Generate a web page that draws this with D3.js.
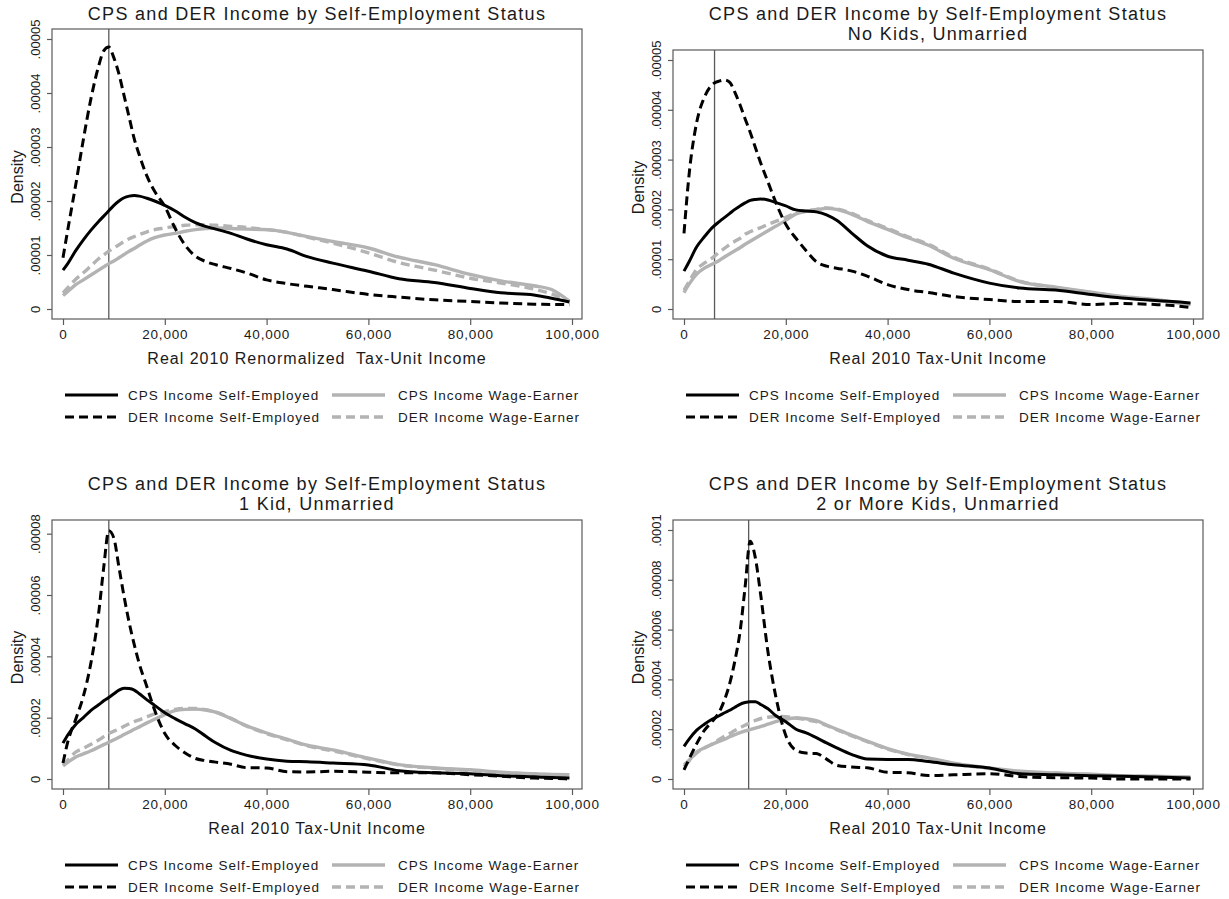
<!DOCTYPE html>
<html>
<head>
<meta charset="utf-8">
<script src="https://cdn.jsdelivr.net/npm/d3@7"></script>
<style>
  body { margin: 0; background: #fff; }
  text { font-family: "Liberation Sans", Arial, sans-serif; fill: #1a1a1a; }
</style>
</head>
<body>
<div id="chart"></div>
<script>
// income grid, in thousands of 2010 dollars
const incomeK = [0, 1, 2.5, 4, 5.5, 7, 8, 9, 10, 11, 12, 13, 14, 15, 16.5, 18, 20, 22, 24, 26, 28, 30, 33, 36, 40, 44, 48, 53, 60, 66, 73, 80, 86, 92.5, 96, 99.5];

// densities, in units of 0.00001
// panel 1: all
const cpsSelf1 = [0.72, 0.85, 1.08, 1.28, 1.46, 1.62, 1.72, 1.82, 1.92, 2.0, 2.06, 2.09, 2.1, 2.09, 2.05, 2.0, 1.92, 1.82, 1.7, 1.6, 1.53, 1.48, 1.4, 1.3, 1.19, 1.11, 0.97, 0.85, 0.7, 0.56, 0.49, 0.38, 0.3, 0.26, 0.2, 0.13];
const derSelf1 = [0.95, 1.5, 2.3, 3.14, 3.9, 4.5, 4.78, 4.85, 4.65, 4.35, 3.95, 3.55, 3.15, 2.85, 2.46, 2.18, 1.9, 1.5, 1.18, 0.98, 0.88, 0.82, 0.75, 0.67, 0.54, 0.47, 0.42, 0.36, 0.27, 0.22, 0.17, 0.14, 0.11, 0.09, 0.085, 0.08];
const cpsWage1 = [0.25, 0.33, 0.45, 0.54, 0.63, 0.72, 0.78, 0.84, 0.89, 0.95, 1.01, 1.07, 1.12, 1.18, 1.26, 1.32, 1.37, 1.4, 1.44, 1.47, 1.49, 1.5, 1.49, 1.48, 1.47, 1.42, 1.34, 1.25, 1.13, 0.96, 0.82, 0.64, 0.52, 0.43, 0.36, 0.14];
const derWage1 = [0.3, 0.4, 0.55, 0.67, 0.8, 0.93, 1.0, 1.07, 1.13, 1.19, 1.25, 1.3, 1.34, 1.38, 1.43, 1.47, 1.5, 1.53, 1.55, 1.56, 1.56, 1.55, 1.53, 1.51, 1.47, 1.42, 1.33, 1.22, 1.04, 0.86, 0.72, 0.57, 0.48, 0.37, 0.28, 0.14];

// panel 2: no kids, unmarried
const cpsSelf2 = [0.76, 0.95, 1.25, 1.45, 1.63, 1.76, 1.84, 1.92, 2.0, 2.07, 2.13, 2.18, 2.2, 2.21, 2.19, 2.14, 2.07, 1.99, 1.97, 1.95, 1.89, 1.78, 1.52, 1.27, 1.06, 0.98, 0.9, 0.72, 0.52, 0.42, 0.38, 0.29, 0.22, 0.17, 0.15, 0.12];
const derSelf2 = [1.52, 2.7, 3.75, 4.25, 4.5, 4.58, 4.6, 4.55, 4.35, 4.1, 3.82, 3.55, 3.25, 2.95, 2.55, 2.15, 1.7, 1.42, 1.17, 0.95, 0.86, 0.82, 0.76, 0.66, 0.49, 0.39, 0.33, 0.25, 0.19, 0.15, 0.15, 0.09, 0.11, 0.09, 0.07, 0.03];
const cpsWage2 = [0.33, 0.5, 0.7, 0.82, 0.9, 0.98, 1.05, 1.11, 1.17, 1.23, 1.3, 1.36, 1.42, 1.48, 1.57, 1.66, 1.78, 1.91, 1.96, 1.99, 2.02, 2.0, 1.9, 1.76, 1.6, 1.43, 1.28, 1.02, 0.79, 0.55, 0.44, 0.34, 0.25, 0.19, 0.14, 0.09];
const derWage2 = [0.38, 0.55, 0.8, 0.92, 1.02, 1.15, 1.22, 1.3, 1.36, 1.42, 1.5, 1.55, 1.6, 1.63, 1.7, 1.76, 1.84, 1.93, 1.97, 2.0, 2.03, 2.01, 1.92, 1.78, 1.62, 1.45, 1.3, 1.04, 0.8, 0.56, 0.43, 0.33, 0.24, 0.18, 0.14, 0.1];

// panel 3: 1 kid, unmarried
const cpsSelf3 = [1.17, 1.45, 1.78, 2.0, 2.24, 2.42, 2.55, 2.66, 2.78, 2.9, 2.96, 2.95, 2.9, 2.78, 2.58, 2.4, 2.16, 1.97, 1.8, 1.63, 1.4, 1.18, 0.93, 0.78, 0.65, 0.58, 0.56, 0.52, 0.46, 0.27, 0.2, 0.17, 0.11, 0.07, 0.05, 0.03];
const derSelf3 = [0.52, 1.25, 1.95, 2.7, 3.8, 5.4, 6.9, 8.1, 7.85, 6.9, 5.95, 5.1, 4.38, 3.75, 3.0, 2.25, 1.48, 1.1, 0.85, 0.67, 0.6, 0.55, 0.48, 0.37, 0.36, 0.24, 0.23, 0.25, 0.22, 0.2, 0.2, 0.14, 0.09, 0.03, 0.02, 0.0];
const cpsWage3 = [0.43, 0.55, 0.72, 0.82, 0.92, 1.04, 1.12, 1.2, 1.28, 1.36, 1.45, 1.53, 1.62, 1.7, 1.83, 1.95, 2.1, 2.23, 2.27, 2.28, 2.25, 2.18, 1.97, 1.74, 1.5, 1.3, 1.1, 0.95, 0.68, 0.47, 0.36, 0.3, 0.22, 0.17, 0.15, 0.14];
const derWage3 = [0.45, 0.62, 0.88, 1.0, 1.13, 1.27, 1.38, 1.48, 1.56, 1.63, 1.72, 1.8, 1.87, 1.93, 2.03, 2.12, 2.2, 2.27, 2.3, 2.3, 2.26, 2.18, 1.98, 1.73, 1.48, 1.28, 1.08, 0.92, 0.66, 0.46, 0.35, 0.28, 0.21, 0.16, 0.14, 0.13];

// panel 4: 2 or more kids, unmarried
const cpsSelf4 = [1.31, 1.6, 1.96, 2.2, 2.4, 2.55, 2.66, 2.76, 2.88, 3.0, 3.07, 3.1, 3.1, 3.0, 2.82, 2.55, 2.3, 2.0, 1.85, 1.66, 1.45, 1.25, 0.98, 0.8, 0.78, 0.78, 0.7, 0.57, 0.44, 0.21, 0.17, 0.13, 0.11, 0.08, 0.06, 0.04];
const derSelf4 = [0.37, 0.8, 1.42, 1.95, 2.3, 2.72, 3.2, 3.85, 4.75, 5.9, 7.7, 9.55, 8.9, 7.5, 5.1, 3.35, 1.75, 1.15, 1.04, 1.02, 0.8, 0.55, 0.48, 0.45, 0.27, 0.25, 0.14, 0.17, 0.21, 0.1, 0.05, 0.04, 0.0, 0.0, 0.0, 0.0];
const cpsWage4 = [0.57, 0.75, 1.08, 1.25, 1.39, 1.52, 1.6, 1.7, 1.78, 1.86, 1.93, 1.98, 2.04, 2.1, 2.2, 2.3, 2.4, 2.45, 2.42, 2.34, 2.17, 2.0, 1.75, 1.52, 1.22, 1.0, 0.85, 0.64, 0.44, 0.31, 0.24, 0.19, 0.13, 0.11, 0.09, 0.08];
const derWage4 = [0.5, 0.72, 1.05, 1.25, 1.4, 1.6, 1.72, 1.83, 1.95, 2.06, 2.16, 2.26, 2.35, 2.42, 2.48, 2.51, 2.5, 2.45, 2.38, 2.3, 2.15, 1.98, 1.73, 1.5, 1.2, 0.98, 0.83, 0.62, 0.42, 0.3, 0.23, 0.18, 0.12, 0.1, 0.08, 0.07];

const panelTitles = ["CPS and DER Income by Self-Employment Status", "CPS and DER Income by Self-Employment Status", "CPS and DER Income by Self-Employment Status", "CPS and DER Income by Self-Employment Status"];
const panelSubtitles = ["", "No Kids, Unmarried", "1 Kid, Unmarried", "2 or More Kids, Unmarried"];
const xTitles = ["Real 2010 Renormalized  Tax-Unit Income", "Real 2010 Tax-Unit Income", "Real 2010 Tax-Unit Income", "Real 2010 Tax-Unit Income"];
const refLines = [9000, 6000, 9000, 12700];
const yMaxes = [0.00005, 0.00005, 0.0000812, 0.0001];

const xTickValues = [0, 20000, 40000, 60000, 80000, 100000];
const xTickLabels = ["0", "20,000", "40,000", "60,000", "80,000", "100,000"];
const yTicksA = [0, 0.00001, 0.00002, 0.00003, 0.00004, 0.00005];
const yLabelsA = ["0", ".00001", ".00002", ".00003", ".00004", ".00005"];
const yTicksB = [0, 0.00002, 0.00004, 0.00006, 0.00008];
const yLabelsB = ["0", ".00002", ".00004", ".00006", ".00008"];
const yTicksC = [0, 0.00002, 0.00004, 0.00006, 0.00008, 0.0001];
const yLabelsC = ["0", ".00002", ".00004", ".00006", ".00008", ".0001"];

const legendLabels = ["CPS Income Self-Employed", "DER Income Self-Employed", "CPS Income Wage-Earner", "DER Income Wage-Earner"];

// series styles: cps self, der self, cps wage, der wage
const seriesColor = ["#000000", "#000000", "#b3b3b3", "#b3b3b3"];
const seriesDash = [null, "9,5", null, "9,5"];
const seriesWidth = [3, 3, 3.4, 3.4];

const panels = [
  {left: 52, top: 29, series: [cpsSelf1, derSelf1, cpsWage1, derWage1], yTicks: yTicksA, yLabels: yLabelsA},
  {left: 673, top: 50, series: [cpsSelf2, derSelf2, cpsWage2, derWage2], yTicks: yTicksA, yLabels: yLabelsA},
  {left: 52, top: 520, series: [cpsSelf3, derSelf3, cpsWage3, derWage3], yTicks: yTicksB, yLabels: yLabelsB},
  {left: 673, top: 520, series: [cpsSelf4, derSelf4, cpsWage4, derWage4], yTicks: yTicksC, yLabels: yLabelsC}
];
const bottoms = [319, 319, 789, 789];
const boxW = 530;
const axisColor = "#5a5a5a";

const svg = d3.select("#chart").append("svg")
    .attr("width", 1229)
    .attr("height", 899);

panels.forEach(function(p, i) {
    const bottom = bottoms[i];
    const g = svg.append("g");

    //----------------------------SCALES----------------------------//
    const x = d3.scaleLinear().domain([0, 100000]).range([p.left + 11, p.left + 520]);
    const y = d3.scaleLinear().domain([0, yMaxes[i]]).range([bottom - 10, p.top + 10]);
    const cx = p.left + boxW / 2;

    //----------------------------TITLES----------------------------//
    g.append("text")
        .attr("x", cx).attr("y", i < 2 ? 20 : 490)
        .attr("text-anchor", "middle")
        .style("font-size", "18px")
        .style("letter-spacing", "1.3px")
        .text(panelTitles[i]);
    if (panelSubtitles[i]) {
        g.append("text")
            .attr("x", cx).attr("y", i < 2 ? 40 : 510)
            .attr("text-anchor", "middle")
            .style("font-size", "18px")
            .style("letter-spacing", "1.3px")
            .text(panelSubtitles[i]);
    }

    //----------------------------REF LINE--------------------------//
    g.append("line")
        .attr("x1", x(refLines[i])).attr("x2", x(refLines[i]))
        .attr("y1", p.top).attr("y2", bottom)
        .attr("stroke", axisColor).attr("stroke-width", 1.3);

    //----------------------------LINES-----------------------------//
    const line = d3.line()
        .x(function(d, k) { return x(incomeK[k] * 1000); })
        .y(function(d) { return y(d * 0.00001); })
        .curve(d3.curveMonotoneX);

    [2, 3, 0, 1].forEach(function(s) {
        g.append("path")
            .attr("d", line(p.series[s]))
            .attr("fill", "none")
            .attr("stroke", seriesColor[s])
            .attr("stroke-width", seriesWidth[s])
            .attr("stroke-dasharray", seriesDash[s]);
    });

    //----------------------------BOX-------------------------------//
    g.append("rect")
        .attr("x", p.left).attr("y", p.top)
        .attr("width", boxW).attr("height", bottom - p.top)
        .attr("fill", "none")
        .attr("stroke", axisColor).attr("stroke-width", 1.2);

    //-----------------------------AXES-----------------------------//
    const xaxis = d3.axisBottom(x)
        .tickValues(xTickValues)
        .tickSize(6)
        .tickPadding(4)
        .tickFormat(function(d, k) { return xTickLabels[k]; });
    const gx = g.append("g")
        .attr("transform", "translate(0," + bottom + ")")
        .call(xaxis);
    gx.select(".domain").remove();
    gx.selectAll("line").attr("stroke", axisColor).attr("stroke-width", 1.2);
    gx.selectAll("text")
        .style("font-size", "13.5px")
        .style("letter-spacing", "0.8px")
        .attr("fill", "#1a1a1a");

    const yaxis = d3.axisLeft(y)
        .tickValues(p.yTicks)
        .tickSize(5)
        .tickFormat(function(d, k) { return p.yLabels[k]; });
    const gy = g.append("g")
        .attr("transform", "translate(" + p.left + ",0)")
        .call(yaxis);
    gy.select(".domain").remove();
    gy.selectAll("line").attr("stroke", axisColor).attr("stroke-width", 1.2);
    gy.selectAll("text")
        .style("font-size", "13px")
        .attr("fill", "#1a1a1a")
        .attr("x", 0).attr("dy", 0)
        .attr("text-anchor", "middle")
        .attr("transform", "translate(-12,0) rotate(-90)");

    // axis titles
    g.append("text")
        .attr("x", cx).attr("y", bottom + 45)
        .attr("text-anchor", "middle")
        .style("font-size", "16px")
        .style("letter-spacing", "1px")
        .style("white-space", "pre")
        .text(xTitles[i]);
    g.append("text")
        .attr("transform", "translate(" + (p.left - 29) + "," + ((p.top + bottom) / 2 + 3) + ") rotate(-90)")
        .attr("text-anchor", "middle")
        .style("font-size", "16px")
        .text("Density");

    //----------------------------LEGEND----------------------------//
    [0, 1, 2, 3].forEach(function(s) {
        const col = s < 2 ? 0 : 1;
        const row = s % 2;
        const ly = bottom + 76 + row * 22;
        const lx = p.left + 13 + col * 267;
        g.append("line")
            .attr("x1", lx).attr("x2", lx + 53)
            .attr("y1", ly).attr("y2", ly)
            .attr("stroke", seriesColor[s])
            .attr("stroke-width", seriesWidth[s])
            .attr("stroke-dasharray", seriesDash[s]);
        g.append("text")
            .attr("x", lx + 63 + col * 3).attr("y", ly + 4.5)
            .style("font-size", "13.5px")
            .style("letter-spacing", "1px")
            .text(legendLabels[s]);
    });
});
</script>
</body>
</html>
